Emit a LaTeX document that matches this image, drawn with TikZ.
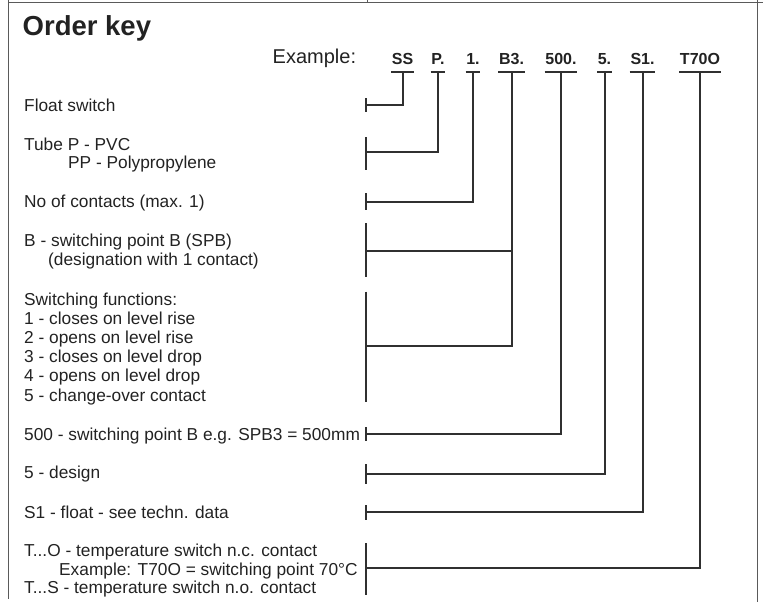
\documentclass[tikz,border=0pt]{standalone}
\usepackage{fontspec}
\setmainfont{Liberation Sans}
\definecolor{txt}{HTML}{222222}
\definecolor{ln}{HTML}{303030}
\definecolor{fr}{HTML}{5A5A5A}
\begin{document}
\begin{tikzpicture}[x=1pt,y=-1pt,
  lbl/.style={anchor=base west, inner sep=0pt, font=\fontsize{17.3}{19.2}\selectfont, text=txt},
  code/.style={anchor=base, inner xsep=0.6pt, inner ysep=0pt, font=\fontsize{16}{16}\bfseries\selectfont, text=txt},
  conn/.style={draw=ln, line width=2pt, line join=miter},
  uline/.style={draw=ln, line width=2.2pt},
  framel/.style={draw=fr, line width=1pt}]
\useasboundingbox (0,0) rectangle (763,602);

% frame
\coordinate (f0) at (8,0);
\coordinate (f1) at (8,599);
\coordinate (f2) at (757,0);
\coordinate (f3) at (757,602);
\coordinate (f4) at (367,0);
\coordinate (f5) at (367,3);
\coordinate (h0) at (8,3);
\coordinate (h1) at (763,3);
\draw[framel] (f0) -- (f1);
\draw[framel] (f2) -- (f3);
\draw[framel] (f4) -- (f5);
\draw[framel] (h0) -- (h1);

% titles
\node[anchor=base west, inner sep=0pt, font=\fontsize{27.5}{30}\bfseries\selectfont, text=txt] (title) at (22.5,36) {Order key};
\node[anchor=base west, inner sep=0pt, font=\fontsize{20}{22}\selectfont, text=txt] (ex) at (272.5,63.5) {Example:};

% codes
\coordinate (ul) at (0,72);
\node[code] (c1) at (402.5,65) {SS};
\node[code] (c2) at (438,65) {P.};
\node[code] (c3) at (473,65) {1.};
\node[code] (c4) at (511.5,65) {B3.};
\node[code] (c5) at (561,65) {500.};
\node[code] (c6) at (604.5,65) {5.};
\node[code] (c7) at (642.5,65) {S1.};
\node[code] (c8) at (700,65) {T70O};
\foreach \c in {c1,c2,c3,c4,c5,c6,c7,c8}{
  \draw[uline] (\c.west |- ul) -- (\c.east |- ul);
}

% labels
\node[lbl] (l1) at (24,111) {Float switch};
\node[lbl] (l2) at (24,150) {Tube P - PVC};
\node[lbl] (l2b) at (68,168.5) {PP - Polypropylene};
\node[lbl] (l3) at (24,207.5) {No of contacts (max. 1)};
\node[lbl] (l4) at (24,246.5) {B - switching point B (SPB)};
\node[lbl] (l4b) at (48,265.5) {(designation with 1 contact)};
\node[lbl] (l5) at (24,305) {Switching functions:};
\node[lbl] (l5a) at (24,324.2) {1 - closes on level rise};
\node[lbl] (l5b) at (24,343.4) {2 - opens on level rise};
\node[lbl] (l5c) at (24,362.6) {3 - closes on level drop};
\node[lbl] (l5d) at (24,381.8) {4 - opens on level drop};
\node[lbl] (l5e) at (24,401) {5 - change-over contact};
\node[lbl] (l6) at (24,440) {500 - switching point B e.g. SPB3 = 500mm};
\node[lbl] (l7) at (24,478.5) {5 - design};
\node[lbl] (l8) at (24,518) {S1 - float - see techn. data};
\node[lbl] (l9) at (24,556.5) {T...O - temperature switch n.c. contact};
\node[lbl] (l9b) at (59,575) {Example: T70O = switching point 70\textdegree C};
\node[lbl] (l9c) at (24,593.5) {T...S - temperature switch n.o. contact};

% ticks (brackets at the left end of each connector)
\coordinate (k1a) at (366,98);    \coordinate (k1b) at (366,112);  \coordinate (k1) at (366,105);
\coordinate (k2a) at (366,137);   \coordinate (k2b) at (366,170);  \coordinate (k2) at (366,152);
\coordinate (k3a) at (366,193);   \coordinate (k3b) at (366,210);  \coordinate (k3) at (366,201.7);
\coordinate (k4a) at (366,223);   \coordinate (k4b) at (366,277);  \coordinate (k4) at (366,250.7);
\coordinate (k5a) at (366,291.7); \coordinate (k5b) at (366,402);  \coordinate (k5) at (366,345.7);
\coordinate (k6a) at (366,427.3); \coordinate (k6b) at (366,440.7);\coordinate (k6) at (366,434.3);
\coordinate (k7a) at (366,464.3); \coordinate (k7b) at (366,484);  \coordinate (k7) at (366,474.3);
\coordinate (k8a) at (366,505);   \coordinate (k8b) at (366,520);  \coordinate (k8) at (366,512.3);
\coordinate (k9a) at (366,543.3); \coordinate (k9b) at (366,595);  \coordinate (k9) at (366,568.3);
\foreach \k in {k1,k2,k3,k4,k5,k6,k7,k8,k9}{
  \draw[conn] (\k a) -- (\k b);
}

% connectors
\draw[conn] (k1) -| (c1 |- ul);
\draw[conn] (k2) -| (c2 |- ul);
\draw[conn] (k3) -| (c3 |- ul);
\draw[conn] (k4) -| (c4 |- ul);
\draw[conn] (k5) -| (c4 |- k4);
\draw[conn] (k6) -| (c5 |- ul);
\draw[conn] (k7) -| (c6 |- ul);
\draw[conn] (k8) -| (c7 |- ul);
\draw[conn] (k9) -| (c8 |- ul);
\end{tikzpicture}
\end{document}
